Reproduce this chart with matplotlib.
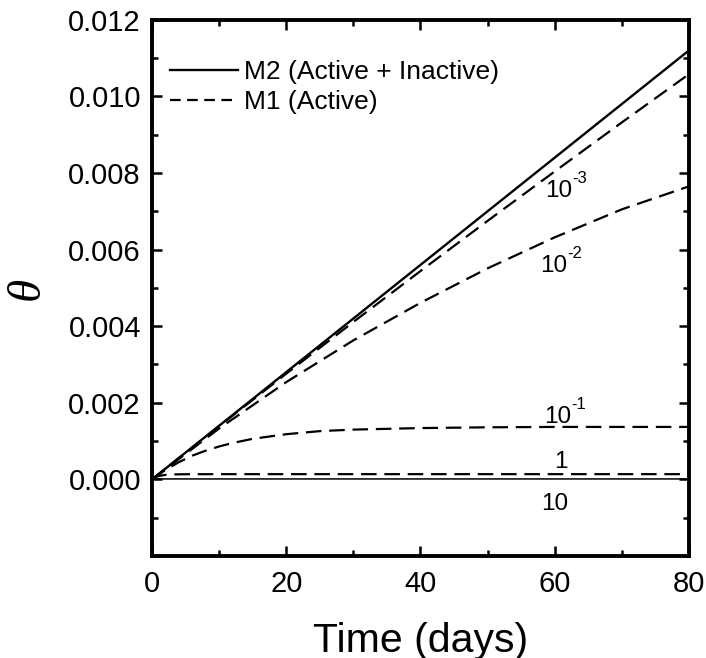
import numpy as np
import matplotlib
matplotlib.use('Agg')
import matplotlib.pyplot as plt
from matplotlib.lines import Line2D
from matplotlib.ticker import MultipleLocator, FormatStrFormatter

plt.rcParams['font.family'] = ['Liberation Sans', 'DejaVu Sans']

# M2 (active + inactive), straight line
t_m2 = [0, 20, 40, 60, 80]
theta_m2 = [0.0, 0.0028, 0.0056, 0.0084, 0.0112]

# M1 (active) curves
t_slow = [0, 10, 20, 30, 40, 50, 60, 70, 80]
theta_k1e3 = [0.0, 0.00139, 0.00276, 0.00411, 0.00544, 0.00675, 0.00804, 0.00932, 0.01058]
theta_k1e2 = [0.0, 0.00133, 0.00254, 0.00363, 0.00461, 0.00551, 0.00632, 0.00705, 0.00765]

t_k1e1 = [0, 2, 4, 6, 8, 10, 12, 15, 20, 25, 30, 40, 50, 60, 70, 80]
theta_k1e1 = [0.0, 0.00025, 0.00045, 0.00062, 0.00075, 0.00086, 0.00095, 0.00106,
              0.00118, 0.00126, 0.00130, 0.00134, 0.00136, 0.00137, 0.00137, 0.00137]

t_k1 = [0, 0.5, 1, 2, 3, 5, 10, 80]
theta_k1 = [0.0, 0.000055, 0.000088, 0.00012, 0.00013, 0.000135, 0.000137, 0.000137]

t_k10 = [0, 0.5, 80]
theta_k10 = [0.0, 0.000012, 0.000012]

# curve labels: base text, superscript, where they sit
label_base = ['10', '10', '10', '1', '10']
label_sup = ['-3', '-2', '-1', '', '']
label_pos = [(58.5, 0.00736), (57.8, 0.00541), (58.4, 0.00146), (59.9, 0.00031), (58.0, -0.00079)]

fig = plt.figure(figsize=(7.06, 6.58), dpi=100)
ax = fig.add_axes([0.2153, 0.155, 0.7606, 0.815])

dash = (7, 3.5)
ax.plot(t_m2, theta_m2, color='black', lw=1.7)
ax.plot(t_slow, theta_k1e3, color='black', lw=1.6, dashes=dash)
ax.plot(t_slow, theta_k1e2, color='black', lw=1.6, dashes=dash)
ax.plot(t_k1e1, theta_k1e1, color='black', lw=1.6, dashes=dash)
ax.plot(t_k1, theta_k1, color='black', lw=1.6, dashes=dash)
ax.plot(t_k10, theta_k10, color='black', lw=1.1)

for base, sup, (x, y) in zip(label_base, label_sup, label_pos):
    ax.text(x, y, base, fontsize=17.5, ha='left', va='baseline')
    if sup:
        ax.annotate(sup, xy=(x, y), xytext=(19.5, 10.5), textcoords='offset points',
                    fontsize=12, ha='left', va='baseline')

ax.set_xlim(0, 80)
ax.set_ylim(-0.002, 0.012)
ax.set_xticks([0, 20, 40, 60, 80])
ax.xaxis.set_minor_locator(MultipleLocator(10))
ax.set_yticks(np.arange(0, 0.0121, 0.002))
ax.yaxis.set_minor_locator(MultipleLocator(0.001))
ax.yaxis.set_major_formatter(FormatStrFormatter('%.3f'))

ax.tick_params(which='both', direction='in', top=True, right=True, width=1.8,
               labelsize=21)
ax.tick_params(axis='y', which='major', length=7, pad=8)
ax.tick_params(axis='x', which='major', length=7, pad=10)
ax.tick_params(which='minor', length=4)
for s in ax.spines.values():
    s.set_linewidth(2.8)

ax.set_xlabel('Time (days)', fontsize=29.5, labelpad=17)
ax.set_ylabel('θ', fontsize=34, family='Liberation Serif', style='italic', labelpad=14)

handles = [Line2D([], [], color='black', lw=1.7),
           Line2D([], [], color='black', lw=1.6, dashes=(4.8, 2.9))]
ax.legend(handles, ['M2 (Active + Inactive)', 'M1 (Active)'],
          loc='upper left', bbox_to_anchor=(0.033, 0.925), frameon=False,
          fontsize=19, handlelength=2.6, handletextpad=0.22, labelspacing=0.22,
          borderpad=0, borderaxespad=0)

plt.savefig('out.png', dpi=100)
